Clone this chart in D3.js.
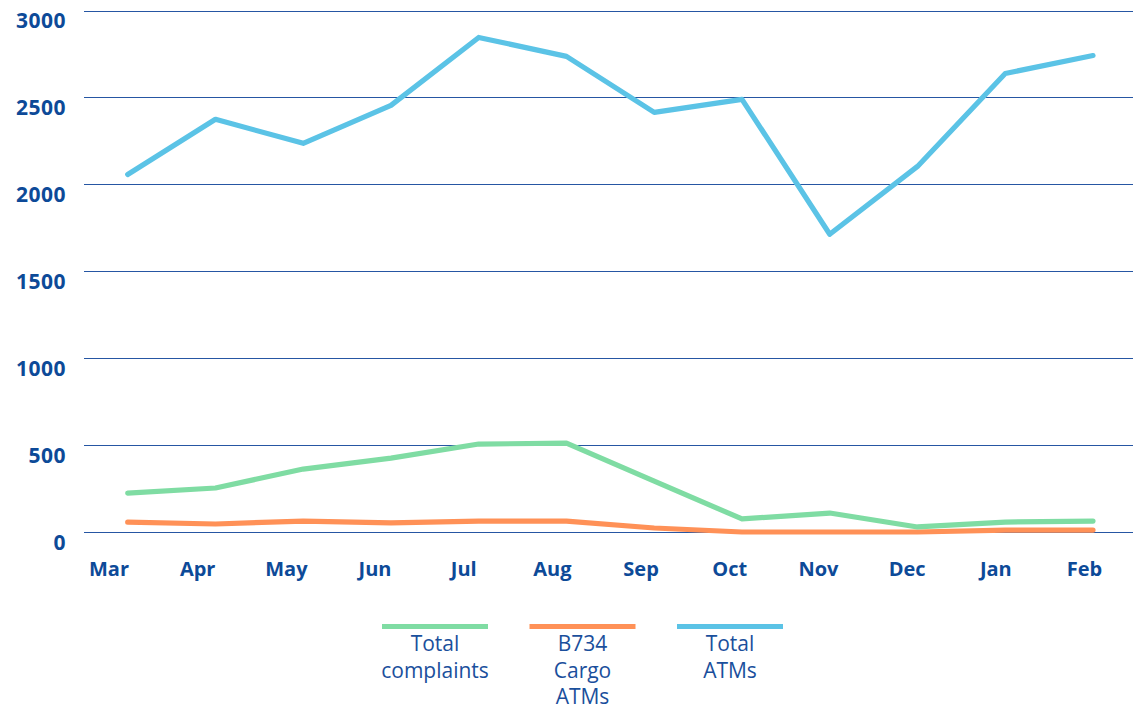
<!DOCTYPE html>
<html><head><meta charset="utf-8">
<script src="https://cdn.jsdelivr.net/npm/d3@7"></script>
<style>body{margin:0;background:#fff}svg{display:block}</style>
</head><body>
<svg id="c" width="1133" height="709"></svg>
<script>
const months = ["Mar","Apr","May","Jun","Jul","Aug","Sep","Oct","Nov","Dec","Jan","Feb"];
const totalComplaints = [224,253,362,425,506,511,293,75,109,29,57,63];
const cargoATMs = [57,46,63,52,63,63,23,0,0,0,11,11];
const totalATMs = [2057,2374,2236,2454,2845,2736,2414,2489,1713,2103,2638,2741];
const yTicks = [0,500,1000,1500,2000,2500,3000];
const seriesNames = [["Total","complaints"],["B734","Cargo","ATMs"],["Total","ATMs"]];
const seriesColors = ["#7fdca3","#ff9157","#5bc3e6"];

const svg = d3.select("#c");
const textColor = "#0d4a98";
const font = "'Open Sans', sans-serif";

const x = d3.scalePoint().domain(months).range([127.7, 1093]);
const xLab = d3.scalePoint().domain(months).range([108.5, 1084]);
const y = d3.scaleLinear().domain([0,3000]).range([532, 10.5]);

// gridlines
svg.append("g").selectAll("line").data(yTicks).join("line")
  .attr("x1",84).attr("x2",1133)
  .attr("y1",d=>Math.round(y(d))+0.5).attr("y2",d=>Math.round(y(d))+0.5)
  .attr("stroke","#2656a3").attr("stroke-width",1.2);

// y labels
svg.append("g").selectAll("text").data(yTicks).join("text")
  .attr("x",66).attr("y",d=>y(d)+12)
  .attr("text-anchor","end").attr("dominant-baseline","middle")
  .attr("font-family",font).attr("font-weight",700).attr("font-size",21)
  .attr("letter-spacing",0.5)
  .attr("fill",textColor).text(d=>d);

// x axis labels
const xa = svg.append("g").attr("transform","translate(0,562)")
  .call(d3.axisBottom(xLab).tickSize(0).tickPadding(0));
xa.select(".domain").remove();
xa.selectAll("text").attr("font-family",font).attr("font-weight",700)
  .attr("font-size",20).attr("fill",textColor).attr("dy","0.71em");

// lines
const data = [totalComplaints, cargoATMs, totalATMs];
const line = d3.line().x((d,i)=>x(months[i])).y(d=>y(d));
[1,0,2].forEach(k=>{
  svg.append("path").datum(data[k]).attr("d",line)
    .attr("fill","none").attr("stroke",seriesColors[k])
    .attr("stroke-width",5.2).attr("stroke-linejoin","round").attr("stroke-linecap","round");
});

// legend
const legX = [435, 582.5, 730];
const leg = svg.append("g");
seriesNames.forEach((nm,i)=>{
  leg.append("line").attr("x1",legX[i]-53).attr("x2",legX[i]+53)
    .attr("y1",626.5).attr("y2",626.5).attr("stroke",seriesColors[i]).attr("stroke-width",5);
  nm.forEach((t,j)=>{
    leg.append("text").attr("x",legX[i]).attr("y",651+j*26.5)
      .attr("text-anchor","middle").attr("font-family",font).attr("font-size",21)
      .attr("fill","#1a4f9c").text(t);
  });
});
</script>
</body></html>
